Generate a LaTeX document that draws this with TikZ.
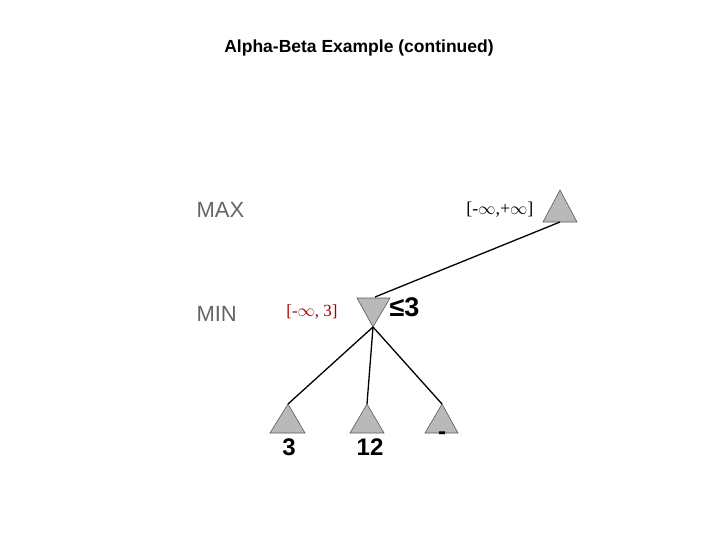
\documentclass[tikz,border=0pt]{standalone}
\usepackage{fontspec}
\setmainfont{Liberation Sans}
\newfontfamily\serifx{Liberation Serif}
\begin{document}
\begin{tikzpicture}[x=1pt,y=-1pt,
  tri/.style={fill=gray!55,draw=gray!70!black,line width=0.6pt},
  edge/.style={line width=1.3pt},
  lvl/.style={text=gray!80!black,font=\fontsize{22}{24}\selectfont},
  leaf/.style={font=\bfseries\fontsize{24}{26}\selectfont}]
\useasboundingbox (0,0) rectangle (720,540);
\node[font=\bfseries\fontsize{17.5}{20}\selectfont] (title) at (359,48) {Alpha-Beta Example (continued)};
\node[lvl,anchor=west] (lmax) at (193,210) {MAX};
\node[lvl,anchor=west] (lmin) at (193,314) {MIN};
% triangles
\draw[tri] (543,222) -- (560,190) -- (577,222) -- cycle;
\draw[tri] (357,298) -- (390,298) -- (373,327) -- cycle;
\draw[tri] (270,433) -- (288,404) -- (305,433) -- cycle;
\draw[tri] (350,433) -- (367,404) -- (384,433) -- cycle;
\draw[tri] (425,433) -- (442,404) -- (458,433) -- cycle;
\coordinate (max) at (560,222);
\coordinate (mintop) at (375,297);
\coordinate (min) at (373,327);
\coordinate (l1) at (288,404);
\coordinate (l2) at (367,404);
\coordinate (l3) at (442,404);
\draw[edge] (max) -- (mintop);
\draw[edge] (min) -- (l1);
\draw[edge] (min) -- (l2);
\draw[edge] (min) -- (l3);
\node[font=\serifx\fontsize{18}{20}\selectfont,anchor=east] (ab1) at (537,210) {[-$\infty$,+$\infty$]};
\node[font=\serifx\fontsize{17}{20}\selectfont,text=red!65!black] (ab2) at (312,312) {[-$\infty$, 3]};
\node[font=\bfseries\fontsize{27}{29}\selectfont,anchor=west] (le) at (386,307) {≤3};
\node[leaf] (v1) at (289,447) {3};
\node[leaf] (v2) at (370,447) {12};
\node[leaf] (v3) at (442,436) {-};
\end{tikzpicture}
\end{document}
